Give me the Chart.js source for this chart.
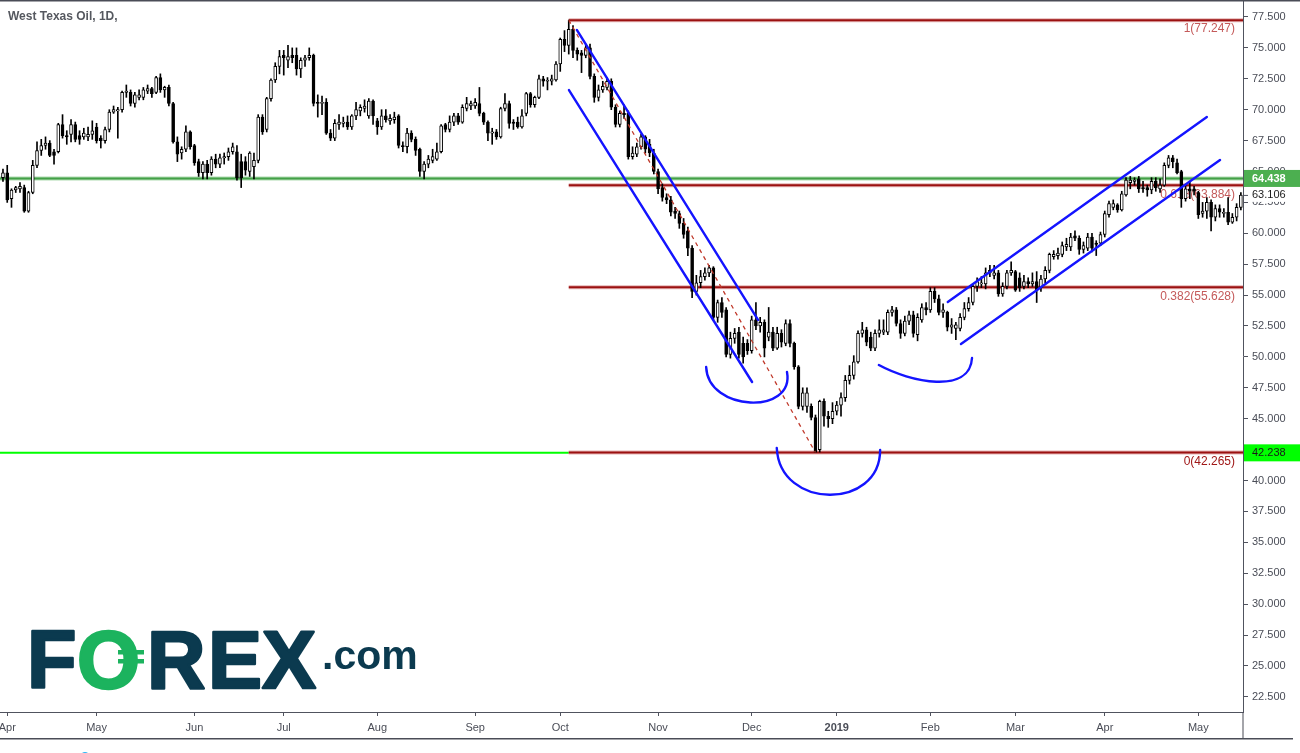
<!DOCTYPE html>
<html><head><meta charset="utf-8">
<script src="https://cdn.jsdelivr.net/npm/chart.js@4.4.0/dist/chart.umd.min.js"></script>
<style>html,body{margin:0;padding:0;background:#fff;overflow:hidden}</style>
</head><body>
<canvas id="c" width="1300" height="753"></canvas>
<script>
const chartTitle = 'West Texas Oil, 1D,';
const firstDay = '2018-03-30';
const lastDay = '2019-05-15';
const closedDays = ['2018-12-25', '2019-01-01'];
const monthNames = ['Jan','Feb','Mar','Apr','May','Jun','Jul','Aug','Sep','Oct','Nov','Dec'];

const opens = [64.5,64.9,62.8,63.5,63.6,63.7,61.8,63.3,65.5,66.7,67.1,67.3,66.6,66.6,68.8,67.9,68.0,68.8,67.9,67.8,
67.8,68.0,68.6,67.7,67.5,68.4,69.8,69.9,70.0,71.4,71.4,70.5,71.0,71.0,71.5,71.7,71.4,72.6,71.6,71.8,
70.5,67.4,66.5,66.8,68.2,67.1,65.8,64.9,65.6,64.9,66.0,65.6,66.1,66.2,66.6,66.6,65.8,65.8,65.0,65.4,
65.9,69.4,68.4,70.9,72.4,73.5,74.4,74.0,74.4,74.4,73.3,74.0,74.2,74.4,70.6,70.5,70.6,68.1,67.7,68.8,
68.9,69.0,68.6,69.5,69.9,70.1,69.5,70.7,69.1,68.6,69.5,69.1,69.2,69.5,67.1,67.0,68.1,67.6,66.8,65.0,
65.6,65.9,66.0,66.6,68.8,68.4,69.0,69.5,69.0,70.1,70.3,70.3,70.5,69.7,69.0,68.1,68.2,67.8,70.1,70.5,
69.0,69.0,68.6,69.7,71.3,70.4,71.0,72.5,72.3,72.3,72.4,73.7,75.7,75.2,76.5,74.8,74.6,74.4,75.0,72.7,
71.0,71.6,71.8,72.3,70.2,68.8,69.7,69.7,66.2,66.4,67.0,67.8,67.2,66.5,65.0,63.7,62.9,62.7,61.8,61.6,
60.8,60.2,58.8,55.3,56.0,56.5,56.8,57.2,53.2,54.4,53.8,50.2,51.5,52.0,51.1,51.1,50.5,53.0,52.5,52.8,
51.6,52.0,50.7,51.9,51.1,52.7,51.1,49.2,46.0,46.0,46.0,45.1,42.5,46.4,45.2,45.0,45.6,46.1,46.7,48.1,
48.5,49.6,51.9,52.2,51.6,50.7,51.9,52.0,52.0,53.6,53.8,52.7,51.9,52.9,53.4,51.8,53.0,54.0,53.8,55.3,
54.7,53.6,53.6,52.4,52.3,52.3,53.2,53.9,54.4,55.7,55.9,55.9,56.8,56.6,56.8,55.1,55.7,56.8,56.9,56.4,
55.7,56.1,55.9,56.1,55.6,56.3,57.0,58.1,58.2,58.3,58.9,58.9,59.8,59.6,58.7,58.8,59.7,59.2,59.2,59.9,
61.5,62.1,62.3,61.9,63.1,64.1,64.2,64.4,63.7,63.7,63.5,64.2,63.6,63.9,65.5,66.1,65.7,65.0,62.8,63.6,
63.6,63.3,61.6,61.8,62.5,61.3,62.0,61.6,61.7,60.9,61.3,62.1];
const highs = [65.2,65.5,63.6,63.8,64.1,63.9,63.4,65.9,67.4,67.6,67.8,67.5,66.8,68.9,69.6,68.3,69.2,69.0,68.3,68.5,
68.6,69.1,68.9,67.9,68.6,70.0,70.3,70.2,71.5,72.0,71.6,71.4,71.6,71.8,72.0,71.8,72.7,72.9,71.9,72.0,
70.6,67.8,67.0,68.7,68.3,67.2,66.0,65.8,65.9,66.2,66.4,66.4,66.5,66.9,67.3,67.1,66.4,66.2,66.6,66.5,
69.6,69.6,71.0,72.5,73.8,74.8,74.8,75.2,75.0,75.0,74.2,74.4,75.0,74.5,71.2,71.1,70.9,68.4,69.2,69.6,
69.4,69.5,69.6,70.6,70.4,70.8,70.9,70.8,69.3,70.0,70.0,69.6,69.8,69.6,67.4,68.5,68.3,67.8,66.9,65.8,
66.3,66.8,67.3,68.8,68.9,69.5,69.7,69.7,70.4,71.0,70.7,70.9,71.8,69.8,69.1,68.5,68.4,70.2,71.3,70.7,
69.2,69.4,70.0,71.4,71.4,71.1,72.8,72.7,72.6,72.8,73.9,75.8,76.4,77.25,76.8,75.0,74.8,75.3,75.3,72.9,
72.0,72.3,72.6,72.5,70.4,69.9,70.4,69.9,67.0,67.3,68.0,67.9,67.6,66.8,65.2,64.0,63.2,63.0,62.1,61.8,
61.2,60.5,59.0,56.6,57.0,57.2,57.4,57.3,54.6,54.8,54.0,52.0,52.3,52.4,51.6,51.4,53.3,54.4,53.2,53.0,
54.0,52.4,52.4,52.2,53.0,53.0,51.2,49.3,47.5,47.5,46.2,45.3,46.5,46.6,45.6,46.3,46.4,47.1,48.5,49.3,
50.1,52.1,52.8,52.4,52.0,52.2,53.0,53.0,53.8,54.1,54.0,53.0,53.3,53.7,53.7,53.5,54.3,54.4,55.6,55.6,
55.0,54.3,53.7,53.1,52.8,53.5,54.4,54.8,55.9,56.4,56.5,57.2,57.4,57.4,57.0,56.0,57.0,57.7,57.0,56.8,
56.6,56.4,56.8,56.9,56.6,57.3,58.4,58.6,58.8,59.3,59.6,60.0,60.2,59.8,59.3,60.0,60.0,59.4,60.1,61.8,
62.6,62.7,62.4,63.4,64.5,64.6,64.5,64.6,64.2,63.9,64.5,64.5,64.4,65.7,66.3,66.3,66.0,65.1,63.9,64.2,
63.8,63.4,62.5,62.9,62.7,62.3,62.3,62.0,62.9,61.6,62.4,63.3];
const lows = [64.2,62.5,62.1,63.3,63.3,61.7,61.7,63.2,65.3,66.3,66.8,66.2,65.6,66.5,67.7,67.2,67.4,67.4,67.2,67.6,
67.5,67.6,67.3,66.9,67.3,68.2,69.7,67.7,69.8,71.0,70.3,70.2,70.8,70.8,71.3,71.0,71.3,71.4,71.0,70.3,
67.3,65.8,66.0,66.6,66.8,65.5,64.6,64.4,64.4,64.7,65.3,65.3,65.6,65.9,66.4,64.3,63.7,64.7,64.6,64.4,
65.7,68.0,68.2,70.7,72.2,72.9,72.8,73.4,73.8,72.8,72.6,73.5,74.0,70.3,69.4,69.6,68.0,67.5,67.5,68.4,
68.6,68.4,68.4,69.2,69.5,69.8,69.3,68.8,68.0,68.4,69.0,68.8,68.9,66.9,66.6,66.5,67.4,66.3,64.6,64.4,
65.3,65.7,65.9,66.5,68.2,68.2,68.7,68.8,68.9,69.9,70.0,70.1,69.5,68.8,67.5,67.2,67.6,67.7,69.9,68.5,
68.4,68.5,68.5,69.5,70.2,70.2,70.9,71.9,71.6,72.0,72.3,73.1,74.7,74.5,74.2,74.0,73.0,74.2,72.5,70.6,
70.7,71.4,71.6,70.0,68.6,68.6,69.3,66.0,66.0,66.2,66.8,66.5,66.2,64.8,63.2,62.6,62.4,61.4,61.2,60.4,
59.6,58.2,54.8,55.0,55.6,56.2,56.5,53.0,52.8,53.2,50.0,49.9,51.1,49.9,49.5,50.2,50.3,52.2,52.0,50.0,
51.3,50.5,50.6,50.8,50.9,50.8,49.0,45.8,45.7,45.5,44.9,42.27,42.3,44.4,44.3,44.6,45.3,45.2,46.4,47.8,
48.2,49.5,51.6,50.9,50.5,50.5,51.6,51.8,51.8,53.3,52.5,51.5,51.7,52.6,51.6,51.3,52.8,53.4,53.6,54.4,
53.4,53.2,52.1,51.9,51.4,52.1,53.0,53.7,54.2,55.3,55.6,55.5,56.5,56.3,54.9,54.9,55.5,56.6,55.3,55.3,
55.5,55.6,55.7,54.4,55.3,56.0,56.8,57.9,57.9,58.1,58.6,58.6,59.4,58.3,58.4,58.6,58.5,58.2,59.0,59.7,
61.3,61.9,61.7,61.8,63.0,63.6,63.9,63.3,63.3,63.0,63.2,63.4,63.3,63.8,65.3,65.3,64.8,62.1,62.6,62.8,
63.1,61.2,61.3,61.2,60.2,61.0,61.3,61.3,60.7,60.8,61.0,61.9];
const closes = [64.9,62.7,63.5,63.7,63.8,61.8,63.3,65.5,66.7,67.1,67.3,66.3,66.3,68.8,67.9,67.8,68.8,67.6,67.6,68.1,
68.0,68.3,67.5,67.5,68.4,69.8,70.0,70.0,71.4,71.5,70.5,71.2,71.2,71.6,71.7,71.3,72.6,71.6,71.8,70.5,
67.4,66.4,66.8,68.2,67.0,65.7,64.9,65.6,64.9,66.0,65.6,66.1,66.2,66.6,67.0,64.5,64.5,65.1,66.5,65.9,
69.4,68.2,70.9,72.4,73.5,74.3,74.2,74.3,74.2,73.3,74.0,74.2,74.4,70.5,70.5,70.6,68.1,67.7,68.9,69.0,
69.0,68.6,69.5,70.0,70.2,70.3,70.7,69.5,68.6,69.5,69.2,69.3,69.4,67.1,67.0,68.1,67.6,66.7,65.0,65.6,
66.0,66.2,66.6,68.7,68.4,69.0,69.5,69.0,70.2,70.5,70.5,70.6,69.7,69.0,68.1,68.2,67.8,70.1,70.5,68.9,
68.9,68.6,69.5,71.3,70.4,71.0,72.5,72.3,72.35,72.5,73.7,75.7,75.2,76.5,74.8,74.5,74.4,75.0,72.7,71.0,
71.6,71.9,72.3,70.2,68.8,69.7,69.6,66.2,66.5,67.0,67.8,66.8,66.5,65.0,63.6,62.9,62.7,61.7,61.6,60.8,
59.9,58.8,55.3,56.0,56.5,56.8,57.2,53.2,54.4,53.6,50.2,51.5,51.9,50.2,50.0,50.5,53.0,52.5,52.8,50.7,
52.0,50.7,51.9,51.2,52.7,51.1,49.2,46.0,47.1,47.1,45.1,42.3,46.4,45.2,45.0,45.6,46.1,46.7,48.1,48.5,
49.6,51.9,52.2,51.2,50.7,51.9,52.2,52.2,53.6,53.8,52.7,51.9,52.9,53.4,51.9,53.2,54.0,53.8,55.3,54.7,
53.6,53.8,52.4,52.6,52.6,53.2,53.9,54.4,55.7,56.1,56.0,56.8,57.0,56.8,55.1,55.7,56.8,57.0,55.4,55.6,
56.1,55.9,56.1,55.4,56.3,57.0,58.3,58.3,58.4,59.0,59.1,59.7,59.6,58.7,59.0,59.7,58.8,59.1,59.9,61.6,
62.4,62.4,61.9,63.2,64.3,64.3,64.3,63.6,63.6,63.5,64.2,63.7,63.9,65.5,66.1,65.8,64.9,62.8,63.6,63.4,
63.4,61.5,61.8,62.5,61.3,62.0,61.7,61.7,60.9,61.3,62.1,63.1];

const yTickValues = [22.5,25,27.5,30,32.5,35,37.5,40,42.5,45,47.5,50,52.5,55,57.5,60,62.5,65,67.5,70,72.5,75,77.5];

// drawn annotations (bar index, price)
const fibRatios = ['1', '0.618', '0.382', '0'];
const fibPrices = [77.247, 63.884, 55.628, 42.265];
const fibStartIndex = 133;
const fibEndIndex = 191;
const greenLevel = 64.438;
const limeLevel = 42.238;
const lastPrice = 63.106;
const downChannel = [[[134.9, 76.45], [177.5, 52.99]], [[133.05, 71.59], [176.1, 47.97]]];
const upChannel = [[[222.1, 54.44], [283.0, 69.41]], [[225.2, 51.04], [286.1, 65.93]]];
const arcs = [
  [[165.3, 49.18], [165.7, 45.54], [186.2, 45.30], [184.3, 48.78]],
  [[181.9, 42.63], [182.6, 37.61], [206.2, 37.61], [206.2, 42.47]],
  [[205.9, 49.34], [213.2, 47.97], [227.3, 46.92], [227.8, 49.91]]
];

// trading days
const dates = [];
(function () {
  const d = new Date(firstDay + 'T00:00:00Z');
  const end = new Date(lastDay + 'T00:00:00Z');
  while (d <= end) {
    const wd = d.getUTCDay();
    const s = d.toISOString().slice(0, 10);
    if (wd !== 0 && wd !== 6 && !closedDays.includes(s)) dates.push(s);
    d.setUTCDate(d.getUTCDate() + 1);
  }
})();
const monthTicks = [];
dates.forEach((s, i) => {
  if (i > 0 && s.slice(5, 7) !== dates[i - 1].slice(5, 7)) {
    const m = +s.slice(5, 7);
    monthTicks.push({ index: i, label: m === 1 ? s.slice(0, 4) : monthNames[m - 1], year: m === 1 });
  }
});

const n = opens.length;
const idx = Array.from({ length: n }, (_, i) => i);
const bodyData = idx.map(i => ({ x: i, y: [opens[i], closes[i]] }));
const wickData = idx.map(i => ({ x: i, y: [lows[i], highs[i]] }));
const isUp = idx.map(i => closes[i] >= opens[i]);

const FONT = '"Liberation Sans", Arial, sans-serif';
const AXIS = '#50535e';

const drawings = {
  id: 'drawings',
  beforeDatasetsDraw(chart) {
    const { ctx, chartArea: a, scales: { x, y } } = chart;
    ctx.save();
    ctx.beginPath(); ctx.rect(a.left, a.top, a.right - a.left, a.bottom - a.top); ctx.clip();
    ctx.strokeStyle = 'rgba(76,175,80,0.45)'; ctx.lineWidth = 4;
    ctx.beginPath(); ctx.moveTo(a.left, y.getPixelForValue(greenLevel)); ctx.lineTo(a.right, y.getPixelForValue(greenLevel)); ctx.stroke();
    ctx.strokeStyle = '#43a047'; ctx.lineWidth = 2;
    ctx.beginPath(); ctx.moveTo(a.left, y.getPixelForValue(greenLevel)); ctx.lineTo(a.right, y.getPixelForValue(greenLevel)); ctx.stroke();
    const xf = x.getPixelForValue(fibStartIndex);
    ctx.strokeStyle = '#00ff00'; ctx.lineWidth = 2;
    ctx.beginPath(); ctx.moveTo(a.left, y.getPixelForValue(limeLevel)); ctx.lineTo(xf, y.getPixelForValue(limeLevel)); ctx.stroke();
    fibPrices.forEach((p, k) => {
      const py = y.getPixelForValue(p);
      ctx.strokeStyle = 'rgba(178,34,34,0.35)'; ctx.lineWidth = 4;
      ctx.beginPath(); ctx.moveTo(xf, py); ctx.lineTo(a.right, py); ctx.stroke();
      ctx.strokeStyle = '#9b1111'; ctx.lineWidth = 2;
      ctx.beginPath(); ctx.moveTo(xf, py); ctx.lineTo(a.right, py); ctx.stroke();
      ctx.fillStyle = k === 3 ? '#a01818' : '#c45a5a';
      ctx.font = '12px ' + FONT; ctx.textAlign = 'right'; ctx.textBaseline = 'middle';
      ctx.fillText(fibRatios[k] + '(' + p.toFixed(3) + ')', a.right - 8, py + 9);
    });
    ctx.restore();
  },
  afterDatasetsDraw(chart) {
    const { ctx, chartArea: a, scales: { x, y } } = chart;
    const P = pt => [x.getPixelForValue(pt[0]), y.getPixelForValue(pt[1])];
    ctx.save();
    ctx.beginPath(); ctx.rect(a.left, a.top, a.right - a.left, a.bottom - a.top); ctx.clip();
    ctx.strokeStyle = '#c0392b'; ctx.lineWidth = 1.3; ctx.setLineDash([4, 4]);
    ctx.beginPath();
    ctx.moveTo(x.getPixelForValue(fibStartIndex), y.getPixelForValue(fibPrices[0]));
    ctx.lineTo(x.getPixelForValue(fibEndIndex), y.getPixelForValue(fibPrices[3]));
    ctx.stroke(); ctx.setLineDash([]);
    ctx.strokeStyle = '#1414ff'; ctx.lineWidth = 2.4; ctx.lineCap = 'round';
    [...downChannel, ...upChannel].forEach(seg => {
      const p0 = P(seg[0]), p1 = P(seg[1]);
      ctx.beginPath(); ctx.moveTo(p0[0], p0[1]); ctx.lineTo(p1[0], p1[1]); ctx.stroke();
    });
    arcs.forEach(c => {
      const q = c.map(P);
      ctx.beginPath(); ctx.moveTo(q[0][0], q[0][1]);
      ctx.bezierCurveTo(q[1][0], q[1][1], q[2][0], q[2][1], q[3][0], q[3][1]);
      ctx.stroke();
    });
    ctx.restore();
  },
  afterDraw(chart) {
    const { ctx, chartArea: a, scales: { y } } = chart;
    const W = chart.width;
    ctx.save();
    ctx.fillStyle = '#4a4d57';
    ctx.fillRect(0, 0, W, 1.5);
    ctx.fillRect(0, 738, 1293, 1.5);
    ctx.fillRect(a.right - 0.5, a.bottom, 1, 739 - a.bottom);
    ctx.fillStyle = '#55585f'; ctx.font = 'bold 12px ' + FONT;
    ctx.textAlign = 'left'; ctx.textBaseline = 'middle';
    ctx.fillText(chartTitle, 8, 17);
    const lx = a.right + 1;
    const gy = y.getPixelForValue(greenLevel);
    ctx.fillStyle = '#4caf50'; ctx.fillRect(lx, gy - 8.5, W - lx, 17);
    ctx.fillStyle = '#ffffff'; ctx.font = 'bold 11px ' + FONT; ctx.textAlign = 'left';
    ctx.fillText(greenLevel.toFixed(3), 1252, gy + 0.5);
    const ly = y.getPixelForValue(limeLevel);
    ctx.fillStyle = '#00ff00'; ctx.fillRect(lx, ly - 8.5, W - lx, 17);
    ctx.fillStyle = '#1a1a1a'; ctx.font = '11px ' + FONT;
    ctx.fillText(limeLevel.toFixed(3), 1252, ly + 0.5);
    const cy = y.getPixelForValue(lastPrice);
    ctx.fillStyle = '#ffffff'; ctx.fillRect(lx, cy - 7, W - lx, 14);
    ctx.fillStyle = '#1a1a1a'; ctx.fillText(lastPrice.toFixed(3), 1252, cy + 0.5);
    ctx.fillStyle = AXIS; ctx.fillRect(a.right, cy, 5, 1);
    // logo
    ctx.textBaseline = 'alphabetic'; ctx.textAlign = 'left';
    ctx.font = 'bold 81px ' + FONT;
    ctx.lineJoin = 'round'; ctx.lineWidth = 2.5;
    const letter = (t, px, col) => { ctx.fillStyle = col; ctx.strokeStyle = col; ctx.fillText(t, px, 688); ctx.strokeText(t, px, 688); };
    letter('F', 27, '#0b3a4f');
    letter('O', 77, '#1cb35e');
    ctx.fillStyle = '#1cb35e';
    ctx.fillRect(118, 650, 26, 4.5);
    ctx.fillRect(118, 659, 26, 4.5);
    letter('R', 147, '#0b3a4f');
    letter('E', 208, '#0b3a4f');
    letter('X', 262, '#0b3a4f');
    ctx.font = 'bold 41px ' + FONT;
    ctx.fillStyle = '#0b3a4f';
    ctx.fillText('.com', 322, 669);
    ctx.fillStyle = '#29b6f6';
    ctx.beginPath(); ctx.arc(85, 757, 5, 0, Math.PI * 2); ctx.fill();
    ctx.restore();
  }
};

const yMax = 77.5 + 17 / 12.36;
const yMin = 77.5 - (712 - 17) / 12.36;

new Chart(document.getElementById('c').getContext('2d'), {
  type: 'bar',
  data: {
    datasets: [
      { label: 'body', data: bodyData, backgroundColor: isUp.map(u => u ? '#ffffff' : '#000000'),
        borderColor: '#000000', borderWidth: 1, borderSkipped: false, barThickness: 3,
        minBarLength: 1, grouped: false, order: 0 },
      { label: 'wick', data: wickData, backgroundColor: '#000000', borderWidth: 0,
        barThickness: 1, grouped: false, order: 1 }
    ]
  },
  options: {
    responsive: false, animation: false, devicePixelRatio: 1,
    layout: { padding: 0 },
    plugins: { legend: { display: false }, tooltip: { enabled: false }, title: { display: false } },
    scales: {
      x: {
        type: 'linear', min: -0.7, max: n - 0.5, offset: false,
        grid: { display: true, offset: false, drawOnChartArea: false, drawTicks: true, tickLength: 4, color: AXIS },
        border: { display: true, color: AXIS, width: 1 },
        ticks: {
          autoSkip: false, maxRotation: 0, padding: 5, color: '#4a4d57',
          font: ctx => ({ family: FONT, size: 11, weight: (ctx.tick && monthTicks.find(m => m.index === ctx.tick.value && m.year)) ? 'bold' : 'normal' }),
          callback: v => { const m = monthTicks.find(t => t.index === v); return m ? m.label : ''; }
        },
        afterBuildTicks: s => { s.ticks = monthTicks.map(m => ({ value: m.index })); },
        afterFit: s => { s.height = 753 - 712; s.paddingLeft = 0; s.paddingRight = 0; }
      },
      y: {
        position: 'right', min: yMin, max: yMax,
        grid: { display: true, drawOnChartArea: false, drawTicks: true, tickLength: 5, color: AXIS },
        border: { display: true, color: AXIS, width: 1 },
        ticks: { padding: 4, color: '#4a4d57', font: { family: FONT, size: 11 }, callback: v => Number(v).toFixed(3) },
        afterBuildTicks: s => { s.ticks = yTickValues.map(v => ({ value: v })); },
        afterFit: s => { s.width = 1300 - 1243; s.paddingTop = 0; s.paddingBottom = 0; }
      }
    }
  },
  plugins: [drawings]
});
</script>
</body></html>
